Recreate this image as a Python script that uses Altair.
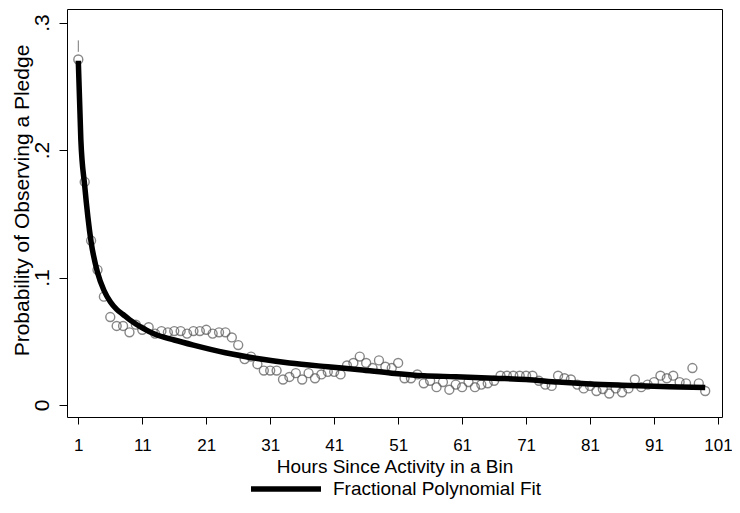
import altair as alt
import pandas as pd

# Observed probabilities by hour (hollow circles)
hours = list(range(1, 100))
prob = [0.271, 0.175, 0.129, 0.106, 0.085, 0.069, 0.062, 0.062, 0.057, 0.063,
        0.059, 0.061, 0.056, 0.058, 0.057, 0.058, 0.058, 0.056, 0.058, 0.058,
        0.059, 0.056, 0.057, 0.057, 0.053, 0.047, 0.036, 0.038, 0.032, 0.027,
        0.027, 0.027, 0.020, 0.022, 0.025, 0.020, 0.025, 0.021, 0.024, 0.026,
        0.026, 0.024, 0.031, 0.033, 0.038, 0.033, 0.029, 0.035, 0.030, 0.029,
        0.033, 0.021, 0.021, 0.024, 0.017, 0.019, 0.014, 0.018, 0.012, 0.016,
        0.014, 0.018, 0.014, 0.016, 0.017, 0.019, 0.023, 0.023, 0.023, 0.023,
        0.023, 0.023, 0.019, 0.016, 0.015, 0.023, 0.021, 0.020, 0.016, 0.013,
        0.015, 0.011, 0.0125, 0.009, 0.013, 0.010, 0.013, 0.020, 0.014, 0.016,
        0.018, 0.023, 0.021, 0.023, 0.018, 0.017, 0.029, 0.017, 0.011]

# Fractional polynomial fit
fit_hours = [1, 1.4, 2, 3, 4, 5, 6, 7, 8, 9, 11, 13, 16, 19, 24, 29, 34, 40,
             45, 50, 55, 60, 66, 71, 76, 81, 86, 91, 95, 99]
fit_prob = [0.270, 0.208, 0.172, 0.128, 0.104, 0.090, 0.081, 0.075, 0.071,
            0.067, 0.0605, 0.0555, 0.051, 0.047, 0.041, 0.0365, 0.033, 0.030,
            0.0277, 0.025, 0.023, 0.0222, 0.021, 0.020, 0.018, 0.0165, 0.0155,
            0.0147, 0.0142, 0.0137]

# small spike above first observation
spike_hour = [1]
spike_lo = [0.277]
spike_hi = [0.286]

x_ticks = [1, 11, 21, 31, 41, 51, 61, 71, 81, 91, 101]
y_ticks = [0, 0.1, 0.2, 0.3]
series_name = "Fractional Polynomial Fit"

obs = pd.DataFrame({"hour": hours, "prob": prob})
fit = pd.DataFrame({"hour": fit_hours, "prob": fit_prob,
                    "series": [series_name] * len(fit_hours)})
spike = pd.DataFrame({"hour": spike_hour, "lo": spike_lo, "hi": spike_hi})

FONT = "Liberation Sans"

xscale = alt.Scale(domain=[-0.766, 101.625], nice=False, zero=False)
yscale = alt.Scale(domain=[-0.0094, 0.3106], nice=False, zero=False)

xaxis = alt.Axis(values=x_ticks, title="Hours Since Activity in a Bin",
                 grid=False, domain=False, tickColor="black", tickSize=7,
                 labelFont=FONT, labelFontSize=17, labelColor="black",
                 labelBaseline="alphabetic", labelPadding=26,
                 labelOverlap=False, labelFlush=False,
                 titleFont=FONT, titleFontSize=19, titleFontWeight="normal",
                 titleColor="black", titleBaseline="alphabetic", titleY=55)
yaxis = alt.Axis(values=y_ticks, title="Probability of Observing a Pledge",
                 grid=False, domain=False, tickColor="black", tickSize=8,
                 labelExpr="datum.value == 0 ? '0' : replace(format(datum.value, '.1f'), '0.', '.')",
                 labelAngle=270, labelAlign="center", labelBaseline="alphabetic",
                 labelPadding=11, labelFont=FONT, labelFontSize=21,
                 labelColor="black",
                 titleFont=FONT, titleFontSize=21, titleFontWeight="normal",
                 titleColor="black", titleAngle=270, titleAlign="center",
                 titleBaseline="alphabetic", titleX=-39, titleY=191)

points = alt.Chart(obs).mark_point(shape="circle", filled=False, size=80,
                                   stroke="#555555", strokeWidth=1.4).encode(
    x=alt.X("hour:Q", scale=xscale, axis=xaxis),
    y=alt.Y("prob:Q", scale=yscale, axis=yaxis),
)

spike_rule = alt.Chart(spike).mark_rule(color="#777777", strokeWidth=1).encode(
    x=alt.X("hour:Q", scale=xscale),
    y=alt.Y("lo:Q", scale=yscale),
    y2="hi:Q",
)

line = alt.Chart(fit).mark_line(strokeWidth=5.5, interpolate="monotone",
                                strokeCap="butt").encode(
    x=alt.X("hour:Q", scale=xscale),
    y=alt.Y("prob:Q", scale=yscale),
    color=alt.Color("series:N", scale=alt.Scale(range=["black"]),
                    legend=alt.Legend(orient="none", legendX=181, legendY=442,
                                      title=None, symbolType="stroke",
                                      symbolSize=4900, symbolStrokeWidth=5.5,
                                      labelFont=FONT, labelFontSize=19,
                                      labelColor="black", labelOffset=9,
                                      labelLimit=400, padding=0)),
)

chart = alt.layer(spike_rule, points, line).properties(
    width=655, height=408,
    autosize=alt.AutoSizeParams(type="none"),
    padding={"left": 59, "top": 1, "right": 10, "bottom": 90},
    background="white",
).configure_view(stroke="black", strokeWidth=1)

chart.save("out.html", embed_options={"renderer": "svg", "actions": False})
